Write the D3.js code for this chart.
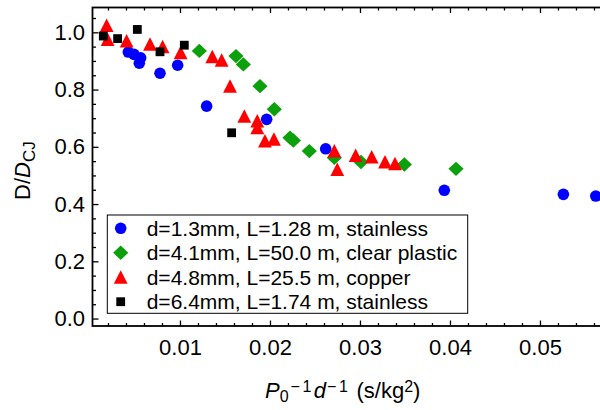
<!DOCTYPE html>
<html><head><meta charset="utf-8">
<script src="https://cdn.jsdelivr.net/npm/d3@7"></script>
<style>body{margin:0;background:#fff}svg{display:block}text{font-family:"Liberation Sans",Arial,sans-serif;fill:#000}</style>
</head><body><svg id="c" width="600" height="410"></svg>
<script>
// ---- data ----
const seriesNames = ["d=1.3mm, L=1.28 m, stainless","d=4.1mm, L=50.0 m, clear plastic","d=4.8mm, L=25.5 m, copper","d=6.4mm, L=1.74 m, stainless"];
const blueX = [0.00426,0.00489,0.00563,0.00548,0.00778,0.00974,0.01296,0.01963,0.02619,0.03937,0.0526,0.0562];
const blueY = [0.931,0.923,0.911,0.892,0.857,0.885,0.742,0.696,0.593,0.448,0.434,0.428];
const greenX = [0.01215,0.01622,0.01704,0.01889,0.02048,0.02222,0.0226,0.02437,0.02715,0.03011,0.03493,0.04067];
const greenY = [0.935,0.917,0.888,0.812,0.731,0.632,0.622,0.585,0.562,0.547,0.538,0.523];
const redX = [0.00185,0.00196,0.00407,0.00667,0.00807,0.01007,0.01359,0.01463,0.01556,0.01715,0.01859,0.01859,0.01944,0.02044,0.02715,0.02748,0.02952,0.0313,0.03278,0.03389];
const redY = [1.024,0.975,0.970,0.958,0.950,0.929,0.915,0.902,0.812,0.707,0.690,0.667,0.620,0.626,0.585,0.521,0.570,0.564,0.547,0.541];
const blackX = [0.00148,0.00307,0.00526,0.00778,0.01048,0.01574];
const blackY = [0.987,0.978,1.010,0.932,0.955,0.649];
const xTickValues = [0.01,0.02,0.03,0.04,0.05];
const xTickLabels = ["0.01","0.02","0.03","0.04","0.05"];
const yTickValues = [0.0,0.2,0.4,0.6,0.8,1.0];
const yTickLabels = ["0.0","0.2","0.4","0.6","0.8","1.0"];

// ---- layout ----
const svg = d3.select("#c");
const L = 92.5, R = 602, T = 7.5, B = 326;
const x = d3.scaleLinear().domain([0.00028, 0.00028 + (R - L) / 9000]).range([L, R]);
const y = d3.scaleLinear().domain([-0.026, 1.0867]).range([B, T]);

// minor ticks
const xMinor = d3.range(0.002, 0.0566, 0.002).filter(v => !xTickValues.some(t => Math.abs(t - v) < 1e-9));
const yMinor = d3.range(0.05, 1.08, 0.05).filter(v => !yTickValues.some(t => Math.abs(t - v) < 1e-9));

function styleAxis(g){ g.select(".domain").remove(); g.selectAll("line").attr("stroke","#000").attr("stroke-width",1.3); g.selectAll("text").style("font-size","22px").attr("fill","#000"); }

svg.append("g").attr("transform",`translate(0,${B})`)
  .call(d3.axisBottom(x).tickValues(xTickValues).tickFormat((d,i)=>xTickLabels[i]).tickSize(-5.5).tickPadding(13)).call(styleAxis);
svg.append("g").attr("transform",`translate(0,${B})`)
  .call(d3.axisBottom(x).tickValues(xMinor).tickFormat("").tickSize(-3)).call(styleAxis);
svg.append("g").attr("transform",`translate(0,${T})`)
  .call(d3.axisTop(x).tickValues(xTickValues).tickFormat("").tickSize(-5.5)).call(styleAxis);
svg.append("g").attr("transform",`translate(0,${T})`)
  .call(d3.axisTop(x).tickValues(xMinor).tickFormat("").tickSize(-3)).call(styleAxis);
svg.append("g").attr("transform",`translate(${L},0)`)
  .call(d3.axisLeft(y).tickValues(yTickValues).tickFormat((d,i)=>yTickLabels[i]).tickSize(-6).tickPadding(7.5)).call(styleAxis);
svg.append("g").attr("transform",`translate(${L},0)`)
  .call(d3.axisLeft(y).tickValues(yMinor).tickFormat("").tickSize(-3.5)).call(styleAxis);

// frame
svg.append("rect").attr("x",L).attr("y",T).attr("width",R-L).attr("height",B-T)
  .attr("fill","none").attr("stroke","#000").attr("stroke-width",1.8);

// marker shapes
const shapes = {
  circle: (g)=>g.append("circle").attr("r",5.8),
  diamond: (g)=>g.append("path").attr("d","M0,-7.2L7.6,0L0,7.2L-7.6,0Z"),
  triangle: (g)=>g.append("path").attr("d","M0,-7L6.9,6.5L-6.9,6.5Z"),
  square: (g)=>g.append("rect").attr("x",-4.4).attr("y",-4.4).attr("width",8.8).attr("height",8.8)
};
const series = [
  {xs: blueX, ys: blueY, color:"#0000ff", shape:"circle"},
  {xs: greenX, ys: greenY, color:"#0ca00c", shape:"diamond"},
  {xs: redX, ys: redY, color:"#ff0000", shape:"triangle"},
  {xs: blackX, ys: blackY, color:"#000000", shape:"square"}
];
series.forEach(s=>{
  const pts = s.xs.map((v,i)=>[v, s.ys[i]]);
  svg.append("g").selectAll("g").data(pts).join("g")
    .attr("transform",d=>`translate(${x(d[0])},${y(d[1])})`)
    .each(function(){ shapes[s.shape](d3.select(this)).attr("fill",s.color); });
});

// legend
const lg = svg.append("g");
lg.append("rect").attr("x",107.3).attr("y",215).attr("width",360.4).attr("height",98.3)
  .attr("fill","#fff").attr("stroke","#000").attr("stroke-width",1);
const rowY = d3.scalePoint().domain(d3.range(4)).range([228.3, 301.7]);
series.forEach((s,i)=>{
  const g = lg.append("g").attr("transform",`translate(120.7,${rowY(i)})`);
  shapes[s.shape](g).attr("fill",s.color);
  lg.append("text").attr("x",146.7).attr("y",rowY(i)+7.3).style("font-size","21px").text(seriesNames[i]);
});

// axis titles
const xt = svg.append("text").attr("x",265).attr("y",398).style("font-size","22px");
xt.append("tspan").style("font-style","italic").text("P");
xt.append("tspan").attr("dy",4).style("font-size","16px").text("0");
xt.append("tspan").attr("dx",2).attr("dy",-10).style("font-size","16px").style("letter-spacing","2.5px").text("\u22121");
xt.append("tspan").attr("dy",6).style("font-style","italic").text("d");
xt.append("tspan").attr("dx",1).attr("dy",-6).style("font-size","16px").style("letter-spacing","2.5px").text("\u22121");
xt.append("tspan").attr("dy",6).text(" (s/kg");
xt.append("tspan").attr("dy",-6).style("font-size","16px").text("2");
xt.append("tspan").attr("dy",6).text(")");

const yt = svg.append("text").attr("transform","translate(30,200) rotate(-90)").style("font-size","22px");
yt.append("tspan").text("D/");
yt.append("tspan").style("font-style","italic").text("D");
yt.append("tspan").attr("dy",5).style("font-size","17px").text("CJ");
</script></body></html>
